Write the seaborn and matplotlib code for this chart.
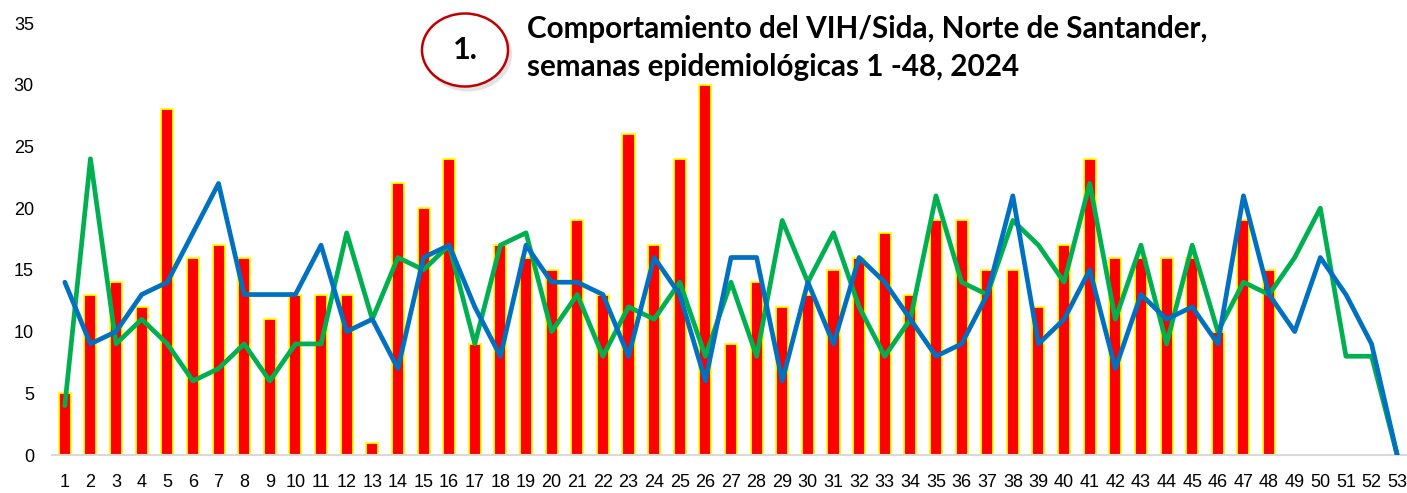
import numpy as np
import pandas as pd
import matplotlib
matplotlib.use("Agg")
import matplotlib.pyplot as plt
from matplotlib.patches import Ellipse
import seaborn as sns

# ---- data ----
weeks_bars = list(range(1, 49))
cases_2024 = [5, 13, 14, 12, 28, 16, 17, 16, 11, 13, 13, 13, 1, 22, 20, 24, 9, 17, 16, 15,
              19, 13, 26, 17, 24, 30, 9, 14, 12, 13, 15, 16, 18, 13, 19, 19, 15, 15, 12, 17,
              24, 16, 16, 16, 16, 10, 19, 15]
weeks_lines = list(range(1, 54))
green_series = [4, 24, 9, 11, 9, 6, 7, 9, 6, 9, 9, 18, 11, 16, 15, 17, 9, 17, 18, 10,
                13, 8, 12, 11, 14, 8, 14, 8, 19, 14, 18, 12, 8, 11, 21, 14, 13, 19, 17, 14,
                22, 11, 17, 9, 17, 10, 14, 13, 16, 20, 8, 8, 0]
blue_series = [14, 9, 10, 13, 14, 18, 22, 13, 13, 13, 17, 10, 11, 7, 16, 17, 12, 8, 17, 14,
               14, 13, 8, 16, 13, 6, 16, 16, 6, 14, 9, 16, 14, 11, 8, 9, 13, 21, 9, 11,
               15, 7, 13, 11, 12, 9, 21, 13, 10, 16, 13, 9, 0]
y_ticks = [0, 5, 10, 15, 20, 25, 30, 35]
title_line1 = "Comportamiento del VIH/Sida, Norte de Santander,"
title_line2 = "semanas epidemiológicas 1 -48, 2024"
badge_text = "1."

sns.set_theme(style="white")
plt.rcParams['font.family'] = ['Liberation Sans', 'DejaVu Sans']

W, H = 1407, 493
fig = plt.figure(figsize=(W / 100, H / 100), dpi=100)
fig.patch.set_facecolor("white")
ax = fig.add_axes([52 / W, (H - 455) / H, (1410 - 52) / W, (455 - 23) / H])

bars_df = pd.DataFrame({"week": weeks_bars, "cases": cases_2024})
lines_df = pd.DataFrame({"week": weeks_lines, "green": green_series, "blue": blue_series})

sns.barplot(data=bars_df, x="week", y="cases", native_scale=True, width=0.47,
            color="#FF0000", saturation=1, edgecolor="#FFFF00", linewidth=1.3, ax=ax, zorder=2)
sns.lineplot(data=lines_df, x="week", y="green", color="#00B050", linewidth=3.4, ax=ax, zorder=3)
sns.lineplot(data=lines_df, x="week", y="blue", color="#0070C0", linewidth=3.4, ax=ax, zorder=4)

ax.set_xlim(0.5, 53.5)
ax.set_ylim(0, 35)
ax.set_xticks(weeks_lines)
ax.set_xticklabels([str(w) for w in weeks_lines])
ax.set_yticks(y_ticks)
ax.set_xlabel("")
ax.set_ylabel("")
ax.tick_params(axis="both", length=0, labelsize=13, colors="#000000")
ax.tick_params(axis="x", pad=14)
ax.tick_params(axis="y", pad=13)
for s in ["top", "right", "left"]:
    ax.spines[s].set_visible(False)
ax.spines["bottom"].set_color("#D9D9D9")
ax.spines["bottom"].set_linewidth(1.5)
ax.grid(False)

# badge
cx, cy = 465 / W, 1 - 50 / H
shadow = Ellipse((cx + 3 / W, cy - 4 / H), 88 / W, 75 / H, transform=fig.transFigure,
                 facecolor="#c8c8c8", edgecolor="none", alpha=0.5, zorder=5)
fig.patches.append(shadow)
circ = Ellipse((cx, cy), 86 / W, 73 / H, transform=fig.transFigure,
               facecolor="white", edgecolor="#C00000", linewidth=1.8, zorder=6)
fig.patches.append(circ)
fig.text(cx, cy, badge_text, ha="center", va="center", fontsize=22, fontweight="bold",
         family="Lato", color="black", zorder=7)

fig.text(527 / W, 1 - 38 / H, title_line1, ha="left", va="baseline", fontsize=21.3,
         fontweight="bold", family="Lato", color="black")
fig.text(527 / W, 1 - 76 / H, title_line2, ha="left", va="baseline", fontsize=21.3,
         fontweight="bold", family="Lato", color="black")

fig.savefig("out.png", dpi=100, facecolor="white")
